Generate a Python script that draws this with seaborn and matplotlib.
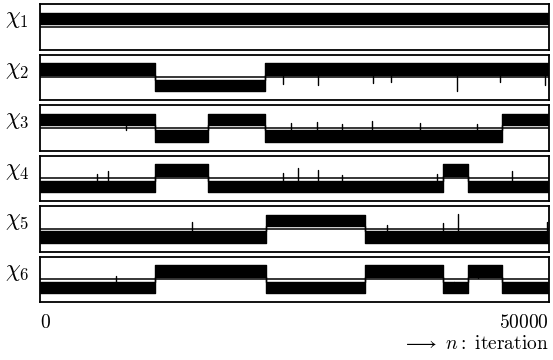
import numpy as np
import pandas as pd
import matplotlib
matplotlib.use("Agg")
import matplotlib.pyplot as plt
import seaborn as sns

# ---------------- data ----------------
n_max = 50000
var_labels = [r"$\chi_1$", r"$\chi_2$", r"$\chi_3$", r"$\chi_4$", r"$\chi_5$", r"$\chi_6$"]
x_ticks = [0, 50000]
x_tick_labels = [r"$\mathrm{0}$", r"$\mathrm{50000}$"]

# iterations where each chain switches state, and the state (+1 upper / -1 lower) in between
chi1_switch = [0, 50000]
chi1_state = [1]
chi2_switch = [0, 11300, 22100, 50000]
chi2_state = [1, -1, 1]
chi3_switch = [0, 11300, 16500, 22100, 45400, 50000]
chi3_state = [1, -1, 1, -1, 1]
chi4_switch = [0, 11300, 16500, 39600, 42000, 50000]
chi4_state = [-1, 1, -1, 1, -1]
chi5_switch = [0, 22200, 31900, 50000]
chi5_state = [-1, 1, -1]
chi6_switch = [0, 11300, 22200, 31900, 39600, 42000, 45400, 50000]
chi6_state = [-1, 1, -1, 1, -1, 1, -1]

# extent of the noisy trace band in each state (panel runs -1..1, reference line at 0)
band_upper = [0.12, 0.62]
band_lower = [-0.62, -0.10]

# isolated excursions of the trace (iteration, value)
chi1_spike_n, chi1_spike_v = [], []
chi2_spike_n = [23900, 27300, 32700, 34500, 41000, 45200, 49600]
chi2_spike_v = [-0.30, -0.35, -0.25, -0.20, -0.60, -0.20, -0.35]
chi3_spike_n = [24700, 27200, 29700, 32600, 37300, 42900, 8400]
chi3_spike_v = [0.20, 0.25, 0.15, 0.30, 0.20, 0.15, -0.10]
chi4_spike_n = [5600, 6700, 23900, 25300, 27300, 29700, 46400, 39000]
chi4_spike_v = [0.20, 0.30, 0.25, 0.45, 0.35, 0.15, 0.30, 0.20]
chi5_spike_n = [34100, 39600, 41100, 49800, 14900]
chi5_spike_v = [0.15, 0.25, 0.65, 0.30, 0.30]
chi6_spike_n = [7500, 42300, 43000, 40700]
chi6_spike_v = [0.15, 0.10, 0.05, -0.15]

switches = [chi1_switch, chi2_switch, chi3_switch, chi4_switch, chi5_switch, chi6_switch]
states = [chi1_state, chi2_state, chi3_state, chi4_state, chi5_state, chi6_state]
spike_n = [chi1_spike_n, chi2_spike_n, chi3_spike_n, chi4_spike_n, chi5_spike_n, chi6_spike_n]
spike_v = [chi1_spike_v, chi2_spike_v, chi3_spike_v, chi4_spike_v, chi5_spike_v, chi6_spike_v]

# ---------------- styling ----------------
sns.set_theme(style="white")
plt.rcParams["mathtext.fontset"] = "cm"
plt.rcParams["font.family"] = ["DejaVu Serif"]

W, H = 553, 360
fig = plt.figure(figsize=(W / 100, H / 100), dpi=100)
fig.patch.set_facecolor("white")

left_px, right_px = 40, 549
for i in range(6):
    top_px = 4 + 50.5 * i
    h_px = 45.5
    ax = fig.add_axes([left_px / W, 1 - (top_px + h_px) / H,
                       (right_px - left_px) / W, h_px / H])
    sw = switches[i]
    st = states[i]
    lo = [band_upper[0] if s > 0 else band_lower[0] for s in st]
    hi = [band_upper[1] if s > 0 else band_lower[1] for s in st]
    lo = lo + [lo[-1]]
    hi = hi + [hi[-1]]
    df = pd.DataFrame({"n": sw, "lo": lo, "hi": hi})
    ax.fill_between(df["n"], df["lo"], df["hi"], step="post", color="black", lw=0)
    sns.lineplot(data=df, x="n", y="lo", drawstyle="steps-post", color="black",
                 lw=1.0, ax=ax, estimator=None)
    sns.lineplot(data=df, x="n", y="hi", drawstyle="steps-post", color="black",
                 lw=1.0, ax=ax, estimator=None)
    # excursions
    for n, v in zip(spike_n[i], spike_v[i]):
        seg = np.searchsorted(sw, n, side="right") - 1
        s = st[min(seg, len(st) - 1)]
        base = band_upper[0] if s > 0 else band_lower[1]
        ax.plot([n, n], [base, v], color="black", lw=1.0)
    # reference line
    ax.axhline(0.0, color="black", lw=1.1)
    ax.set_xlim(0, n_max)
    ax.set_ylim(-1, 1)
    ax.set_yticks([])
    for sp in ax.spines.values():
        sp.set_visible(True)
        sp.set_color("black")
        sp.set_linewidth(1.3)
    ax.set_ylabel(var_labels[i], rotation=0, fontsize=17, color="black")
    ax.yaxis.set_label_coords(-0.045, 0.42)
    ax.set_xlabel("")
    if i < 5:
        ax.set_xticks([])
    else:
        ax.set_xticks(x_ticks)
        ax.set_xticklabels(x_tick_labels, fontsize=14, color="black")
        ax.tick_params(axis="x", length=0, pad=9)
        tl = ax.get_xticklabels()
        tl[0].set_ha("left")
        tl[1].set_ha("right")
        ax.set_xlabel(r"$\longrightarrow\ n\mathrm{:\ iteration}$", fontsize=14,
                      color="black")
        ax.xaxis.set_label_coords(1.0, -0.72)
        ax.xaxis.label.set_ha("right")

fig.savefig("out.png", dpi=100, facecolor="white")
